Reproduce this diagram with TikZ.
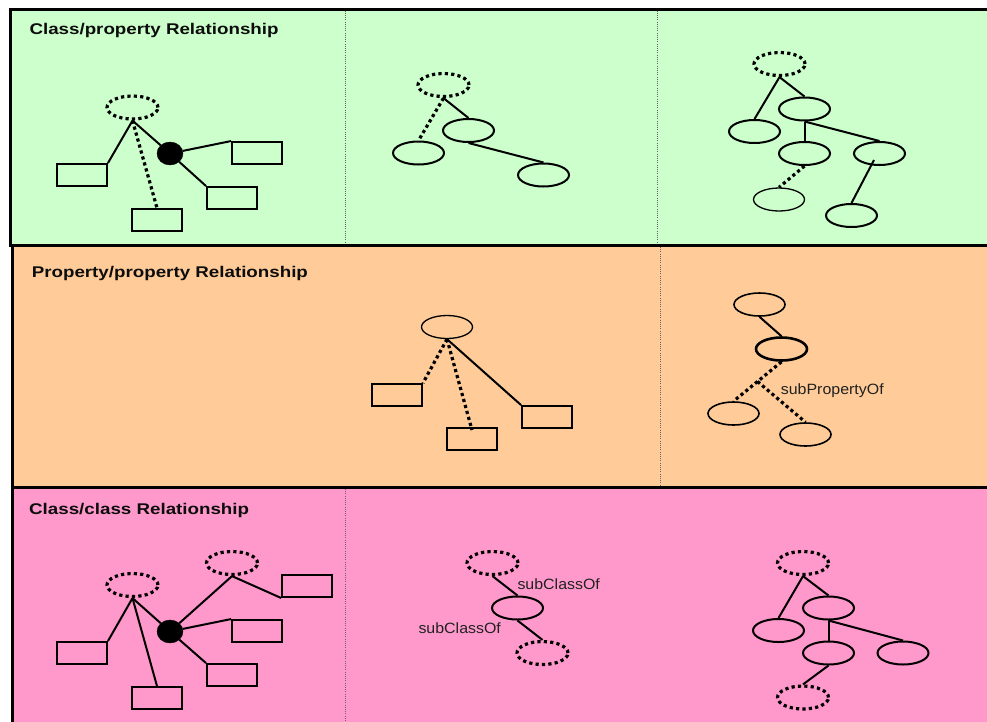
\documentclass[tikz,border=0pt]{standalone}
\usepackage{fontspec}
\usetikzlibrary{shapes.geometric,calc}
\newfontfamily\headfont{Liberation Sans}[FakeStretch=1.21]
\newfontfamily\labelfont{Liberation Sans}[FakeStretch=1.07]
\definecolor{pgreen}{HTML}{CCFFCC}
\definecolor{porange}{HTML}{FFCC99}
\definecolor{ppink}{HTML}{FF99CC}
\tikzset{
  panel/.style={draw=black, line width=3pt},
  divider/.style={draw=black!60, line width=0.9pt, dash pattern=on 1pt off 1.2pt},
  ell/.style={ellipse, draw, line width=2pt, minimum width=51pt, minimum height=23pt, inner sep=0pt},
  thinell/.style={ell, line width=1.3pt},
  dell/.style={ell, line width=3.2pt, dash pattern=on 3.2pt off 3.2pt},
  box/.style={rectangle, draw, line width=1.9pt, minimum width=50pt, minimum height=22pt, inner sep=0pt},
  blob/.style={ellipse, fill=black, draw=black, minimum width=26pt, minimum height=23pt, inner sep=0pt},
  link/.style={line width=2pt},
  dlink/.style={line width=3.2pt, dash pattern=on 3.2pt off 3pt},
  heading/.style={anchor=base west, inner sep=0pt, text=black!95, font=\headfont\bfseries\fontsize{15.5}{18}\selectfont},
  rel/.style={anchor=base west, inner sep=0pt, text=black!87, font=\labelfont\fontsize{14.9}{17}\selectfont},
}
\begin{document}
\begin{tikzpicture}[x=1pt, y=-1pt]
\clip (0,0) rectangle (987,721);
\fill[white] (0,0) rectangle (987,721);

% panels
\draw[panel, fill=pgreen] (10,9) rectangle (1000,245);
\draw[panel, fill=porange] (12.8,245.5) rectangle (1000,487);
\draw[panel, fill=ppink] (12,487.5) rectangle (1000,740);

% column dividers
\draw[divider] (345,10.5) -- (345,243.5);
\draw[divider] (657,10.5) -- (657,243.5);
\draw[divider] (660.5,247) -- (660.5,485.5);
\draw[divider] (345.5,489) -- (345.5,721);

% headings
\node[heading] (h1) at (29.3,34.3) {Class/property Relationship};
\node[heading] (h2) at (31.6,277) {Property/property Relationship};
\node[heading] (h3) at (29,514.3) {Class/class Relationship};

% ---- class/property, left
\node[dell] (cpA) at (132.5,107.5) {};
\node[blob] (cpB) at (170,153.5) {};
\node[box] (cpR1) at (82,175) {};
\node[box] (cpR2) at (157,220) {};
\node[box] (cpR3) at (257,153) {};
\node[box] (cpR4) at (232,198) {};
\draw[link] (cpA.south) -- (cpR1.north east);
\draw[dlink] (cpA.south) -- (cpR2.north);
\draw[link] (cpA.south) -- (cpB);
\draw[link] (cpB) -- (cpR3.north west);
\draw[link] (cpB) -- (cpR4.north west);

% ---- class/property, middle
\node[dell] (cmT) at (443.5,85) {};
\node[ell] (cmA) at (468.5,130.5) {};
\node[ell] (cmB) at (418.5,153) {};
\node[ell] (cmC) at (543.5,175) {};
\draw[link] (cmT.south) -- (cmA.north);
\draw[dlink] (cmT.south) -- (cmB.north);
\draw[link] (cmA.south) -- (cmC.north);

% ---- class/property, right
\node[dell] (crT) at (779.5,64) {};
\node[ell] (cr1) at (804.5,109) {};
\node[ell] (cr2) at (754.5,131.5) {};
\node[ell] (cr3) at (804.5,153.5) {};
\node[ell] (cr4) at (879.5,153.5) {};
\node[thinell] (cr5) at (779,199.5) {};
\node[ell] (cr6) at (851.5,215.5) {};
\draw[link] (crT.south) -- (cr2.north);
\draw[link] (crT.south) -- (cr1.north);
\draw[link] (cr1.south) -- (cr3.north);
\draw[link] (cr1.south) -- (cr4.north);
\draw[dlink] (cr3.south) -- (cr5.north);
\draw[link] ([shift={(-5.5,6.5)}]cr4.center) -- (cr6.north);

% ---- property/property, middle
\node[thinell] (ppE) at (447,327) {};
\node[box] (ppL) at (397,395) {};
\node[box] (ppM) at (472,439) {};
\node[box] (ppR) at (547,417) {};
\draw[dlink] (ppE.south) -- (ppL.north east);
\draw[dlink] (ppE.south) -- ([yshift=-3]ppM.north);
\draw[link] (ppE.south) -- (ppR.north west);

% ---- property/property, right
\node[ell, line width=1.6pt] (prT) at (759.5,304.5) {};
\node[ell, line width=2.6pt] (prM) at (781.5,349) {};
\node[ell, line width=1.6pt] (prL) at (733.5,413.5) {};
\node[ell, line width=1.6pt] (prR) at (805.5,434.5) {};
\draw[link] (prT.south) -- (prM.north);
\draw[dlink] (prM.south) -- (prL.north);
\coordinate (prK) at ($(prM.south)!0.5!(prL.north)$);
\draw[dlink] (prK) -- (prR.north);
\node[rel] (subp) at (780.7,394.7) {subPropertyOf};

% ---- class/class, left
\node[dell] (ccA) at (132.5,585) {};
\node[dell] (ccC) at (232,563) {};
\node[blob] (ccB) at (170,631.5) {};
\node[box] (ccR1) at (82,653) {};
\node[box] (ccR2) at (157,698) {};
\node[box] (ccR3) at (257,631) {};
\node[box] (ccR4) at (232,675) {};
\node[box] (ccR5) at (307,586) {};
\draw[link] (ccA.south) -- (ccR1.north east);
\draw[link] (ccA.south) -- (ccR2.north);
\draw[link] (ccA.south) -- (ccB);
\draw[link] (ccB) -- (ccC.south);
\draw[link] (ccC.south) -- (ccR5.south west);
\draw[link] (ccB) -- (ccR3.north west);
\draw[link] (ccB) -- (ccR4.north west);

% ---- class/class, middle
\node[dell] (cnT) at (492.5,563) {};
\node[ell] (cnM) at (517.5,608) {};
\node[dell] (cnB) at (542.5,653) {};
\draw[link] (cnT.south) -- (cnM.north);
\draw[link] (cnM.south) -- (cnB.north);
\node[rel] (subc1) at (517.3,589.3) {subClassOf};
\node[rel] (subc2) at (418.3,633.3) {subClassOf};

% ---- class/class, right
\node[dell] (ckT) at (803,563) {};
\node[ell] (ck1) at (828.5,608) {};
\node[ell] (ck2) at (778.5,630.5) {};
\node[ell] (ck3) at (828.5,653) {};
\node[ell] (ck4) at (903,653) {};
\node[dell] (ckB) at (803,697.5) {};
\draw[link] (ckT.south) -- (ck2.north);
\draw[link] (ckT.south) -- (ck1.north);
\draw[link] (ck1.south) -- (ck3.north);
\draw[link] (ck1.south) -- (ck4.north);
\draw[link] (ck3.south) -- (ckB.north);
\end{tikzpicture}
\end{document}
